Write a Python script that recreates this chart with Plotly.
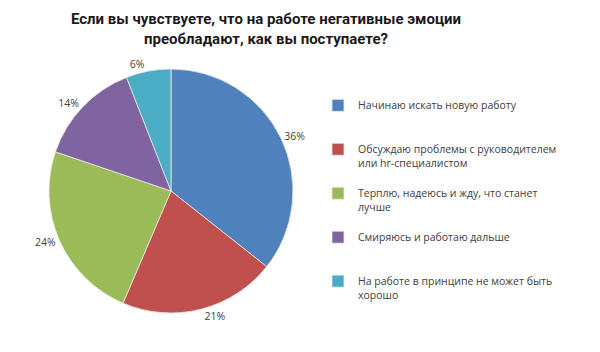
import plotly.graph_objects as go

categories = [
    "Начинаю искать новую работу",
    "Обсуждаю проблемы с руководителем<br>или hr-специалистом",
    "Терплю, надеюсь и жду, что станет<br>лучше",
    "Смиряюсь и работаю дальше",
    "На работе в принципе не может быть<br>хорошо",
]
values = [36, 21, 24, 14, 6]
value_labels = ["36%", "21%", "24%", "14%", "6%"]
colors = ["#4F81BD", "#C0504D", "#9BBB59", "#8064A2", "#4BACC6"]

# pad legend entries to equal line count so spacing is uniform
legend_labels = []
for c in categories:
    n = c.count("<br>") + 1
    legend_labels.append(c + "<br> " * (3 - n))

fig = go.Figure(go.Pie(
    labels=legend_labels,
    values=values,
    text=value_labels,
    texttemplate="%{text}",
    textposition="outside",
    textfont=dict(family="Open Sans", size=10.5, color="#404040"),
    marker=dict(colors=colors, line=dict(color="#e8e8e8", width=0.8)),
    sort=False,
    direction="clockwise",
    rotation=0,
    hoverinfo="label+text",
    domain=dict(x=[0.0817, 0.4883], y=[0.1108, 0.804]),
))

fig.update_layout(
    width=600, height=352,
    margin=dict(l=0, r=0, t=0, b=0),
    paper_bgcolor="white",
    title=dict(
        text="<b>Если вы чувствуете, что на работе негативные эмоции<br>преобладают, как вы поступаете?</b>",
        x=266/600, xanchor="center", y=1 - 24/352, yanchor="top",
        font=dict(family="Roboto", size=15, color="#1a1a1a"),
    ),
    legend=dict(
        x=0.53, y=1 - 92/352, xanchor="left", yanchor="top",
        font=dict(family="Open Sans", size=10.5, color="#404040"),
        valign="top",
        tracegroupgap=0,
    ),
    showlegend=True,
)

fig.write_html("out.html")
